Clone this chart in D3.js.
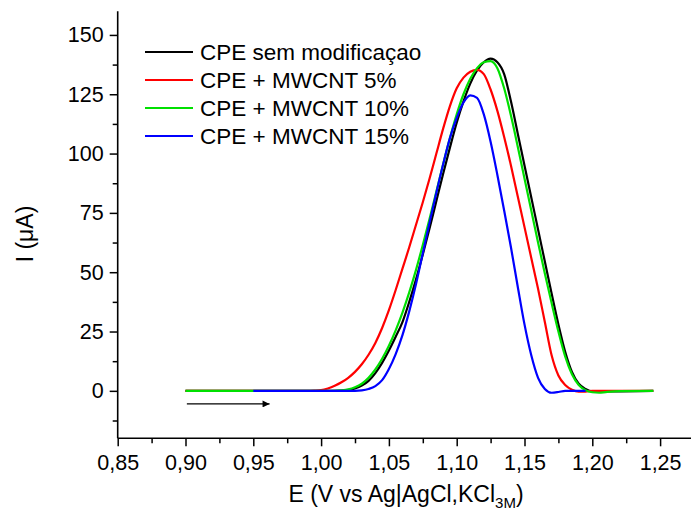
<!DOCTYPE html>
<html>
<head>
<meta charset="utf-8">
<script src="https://cdn.jsdelivr.net/npm/d3@7"></script>
<style>
  html, body { margin: 0; padding: 0; background: #fff; }
  svg { display: block; font-family: "Liberation Sans", Arial, sans-serif; }
</style>
</head>
<body>
<svg id="chart" width="691" height="520"></svg>
<script>
// ---- data ----
const seriesNames = ["CPE sem modificaçao", "CPE + MWCNT 5%", "CPE + MWCNT 10%", "CPE + MWCNT 15%"];
const seriesColors = ["#000000", "#ff0000", "#00e000", "#0000ff"];

const blackE = [0.900, 0.950, 1.000, 1.015, 1.020, 1.025, 1.030, 1.035, 1.040, 1.045, 1.050, 1.055, 1.060, 1.065, 1.070, 1.075, 1.080, 1.085, 1.090, 1.095, 1.100, 1.105, 1.110, 1.115, 1.120, 1.125, 1.130, 1.135, 1.140, 1.145, 1.150, 1.155, 1.160, 1.165, 1.170, 1.175, 1.180, 1.185, 1.190, 1.195, 1.200, 1.210, 1.245];
const blackI = [0.0, 0.0, 0.0, 0.1, 0.3, 1.0, 2.2, 4.2, 7.5, 11.8, 17.0, 22.8, 29.0, 37.5, 47.0, 57.5, 68.5, 80.0, 91.5, 102.5, 113.0, 122.0, 129.5, 135.0, 138.5, 140.0, 138.5, 133.5, 122.0, 108.5, 95.0, 81.5, 68.0, 54.5, 41.0, 28.0, 16.5, 8.0, 3.0, 0.8, -0.2, -0.2, 0.0];

const redE = [0.900, 0.950, 0.990, 0.995, 1.000, 1.005, 1.010, 1.015, 1.020, 1.025, 1.030, 1.035, 1.040, 1.045, 1.050, 1.055, 1.060, 1.065, 1.070, 1.075, 1.080, 1.085, 1.090, 1.095, 1.100, 1.105, 1.110, 1.115, 1.120, 1.125, 1.130, 1.135, 1.140, 1.145, 1.150, 1.155, 1.160, 1.165, 1.170, 1.175, 1.180, 1.185, 1.190, 1.195, 1.200, 1.245];
const redI = [0.0, 0.0, 0.0, 0.1, 0.3, 1.0, 2.1, 3.6, 5.5, 8.0, 11.2, 15.2, 20.2, 26.5, 34.0, 42.5, 51.5, 60.5, 70.0, 79.5, 89.5, 100.0, 110.5, 120.0, 127.5, 132.0, 134.5, 135.3, 133.5, 127.0, 118.0, 107.0, 95.0, 82.0, 69.0, 56.0, 43.0, 29.0, 15.0, 6.5, 2.5, 0.5, -0.3, -0.3, 0.0, 0.0];

const greenE = [0.900, 0.950, 1.000, 1.010, 1.015, 1.020, 1.025, 1.030, 1.035, 1.040, 1.045, 1.050, 1.055, 1.060, 1.065, 1.070, 1.075, 1.080, 1.085, 1.090, 1.095, 1.100, 1.105, 1.110, 1.115, 1.120, 1.125, 1.130, 1.135, 1.140, 1.145, 1.150, 1.155, 1.160, 1.165, 1.170, 1.175, 1.180, 1.185, 1.190, 1.195, 1.200, 1.205, 1.210, 1.220, 1.245];
const greenI = [0.0, 0.0, 0.0, 0.0, 0.2, 0.6, 1.5, 3.0, 5.5, 9.0, 13.5, 19.0, 25.5, 33.0, 41.5, 51.0, 61.5, 72.5, 84.0, 95.5, 106.5, 116.5, 125.0, 131.5, 136.0, 138.5, 139.0, 136.0, 127.5, 116.0, 103.0, 89.5, 76.0, 62.5, 49.5, 37.0, 25.0, 14.5, 7.0, 2.5, 0.3, -0.6, -0.8, -0.5, -0.1, 0.0];

const blueE = [0.950, 1.000, 1.025, 1.030, 1.035, 1.040, 1.045, 1.050, 1.055, 1.060, 1.065, 1.070, 1.075, 1.080, 1.085, 1.090, 1.095, 1.100, 1.105, 1.110, 1.115, 1.120, 1.125, 1.130, 1.135, 1.140, 1.145, 1.150, 1.155, 1.160, 1.165, 1.170, 1.175, 1.180, 1.185, 1.195];
const blueI = [0.0, 0.0, 0.0, 0.2, 0.8, 2.0, 4.5, 9.2, 15.5, 23.5, 33.5, 45.0, 58.0, 71.0, 83.5, 95.5, 106.5, 115.0, 121.5, 124.5, 123.5, 116.5, 105.0, 91.0, 76.0, 60.5, 44.0, 28.0, 15.0, 5.5, 0.8, -0.8, -0.5, 0.0, 0.0, 0.0];

const seriesE = [blackE, redE, greenE, blueE];
const seriesI = [blackI, redI, greenI, blueI];

const xTickValues = [0.85, 0.90, 0.95, 1.00, 1.05, 1.10, 1.15, 1.20, 1.25];
const xTickLabels = ["0,85", "0,90", "0,95", "1,00", "1,05", "1,10", "1,15", "1,20", "1,25"];
const xMinorTicks = [0.875, 0.925, 0.975, 1.025, 1.075, 1.125, 1.175, 1.225];
const yTickValues = [0, 25, 50, 75, 100, 125, 150];
const yTickLabels = ["0", "25", "50", "75", "100", "125", "150"];
const yMinorTicks = [-12.5, 12.5, 37.5, 62.5, 87.5, 112.5, 137.5];

const arrowE = [0.901, 0.962];
const arrowI = -5.5;

// ---- drawing ----
const svg = d3.select("#chart");
const x = d3.scaleLinear().domain([0.85, 1.275]).range([117.7, 694]);
const y = d3.scaleLinear().domain([-20, 160]).range([438.3, 11.2]);

const line = d3.line()
  .x(d => x(d[0]))
  .y(d => y(d[1]))
  .curve(d3.curveMonotoneX);

seriesE.forEach((E, k) => {
  const pts = E.map((e, i) => [e, seriesI[k][i]]);
  svg.append("path")
    .datum(pts)
    .attr("d", line)
    .attr("fill", "none")
    .attr("stroke", seriesColors[k])
    .attr("stroke-width", 2.2)
    .attr("stroke-linejoin", "round");
});

// axes
const xAxis = d3.axisBottom(x)
  .tickValues(xTickValues)
  .tickFormat((d, i) => xTickLabels[i])
  .tickSize(8)
  .tickPadding(8);
const gx = svg.append("g").attr("transform", `translate(0,${y(-20)})`).call(xAxis);
gx.select(".domain").attr("d", `M${x(0.85)},0H691`);
gx.selectAll(".tick line").attr("stroke-width", 1.5);
gx.selectAll("text").attr("font-size", 21.5).attr("font-family", "Liberation Sans, Arial, sans-serif").attr("fill", "#000");

const gxm = svg.append("g").attr("transform", `translate(0,${y(-20)})`)
  .call(d3.axisBottom(x).tickValues(xMinorTicks).tickSize(5).tickFormat(""));
gxm.select(".domain").remove();
gxm.selectAll(".tick line").attr("stroke-width", 1.5);

const yAxis = d3.axisLeft(y)
  .tickValues(yTickValues)
  .tickFormat((d, i) => yTickLabels[i])
  .tickSize(8)
  .tickPadding(6);
const gy = svg.append("g").attr("transform", `translate(${x(0.85)},0)`).call(yAxis);
gy.select(".domain").attr("d", `M0,${y(-20)}V${y(160)}`);
gy.selectAll(".tick line").attr("stroke-width", 1.5);
gy.selectAll("text").attr("font-size", 21.5).attr("font-family", "Liberation Sans, Arial, sans-serif").attr("fill", "#000");

const gym = svg.append("g").attr("transform", `translate(${x(0.85)},0)`)
  .call(d3.axisLeft(y).tickValues(yMinorTicks).tickSize(5).tickFormat(""));
gym.select(".domain").remove();
gym.selectAll(".tick line").attr("stroke-width", 1.5);

svg.selectAll(".domain").attr("stroke-width", 1.6).attr("stroke", "#000");

// arrow
svg.append("defs").append("marker")
  .attr("id", "arrowhead")
  .attr("viewBox", "0 0 10 10")
  .attr("refX", 10).attr("refY", 5)
  .attr("markerWidth", 10).attr("markerHeight", 7)
  .attr("markerUnits", "userSpaceOnUse")
  .attr("orient", "auto")
  .append("path").attr("d", "M0,0L10,5L0,10Z").attr("fill", "#000");
svg.append("line")
  .attr("x1", x(arrowE[0])).attr("x2", x(arrowE[1]))
  .attr("y1", y(arrowI)).attr("y2", y(arrowI))
  .attr("stroke", "#000").attr("stroke-width", 1.2)
  .attr("marker-end", "url(#arrowhead)");

// legend
const legend = svg.append("g").attr("transform", "translate(145,52)");
seriesNames.forEach((name, k) => {
  const g = legend.append("g").attr("transform", `translate(0,${k * 28})`);
  g.append("line").attr("x1", 0).attr("x2", 48).attr("y1", 0).attr("y2", 0)
    .attr("stroke", seriesColors[k]).attr("stroke-width", 2.2);
  g.append("text").attr("x", 55).attr("y", 0).attr("dy", "0.36em")
    .attr("font-size", 22.5).attr("fill", "#000").text(name);
});

// axis titles
const xt = svg.append("text")
  .attr("x", 406).attr("y", 502)
  .attr("text-anchor", "middle")
  .attr("font-size", 23).attr("fill", "#000");
xt.append("tspan").text("E (V vs Ag|AgCl,KCl");
xt.append("tspan").attr("font-size", 15).attr("dy", 6).text("3M");
xt.append("tspan").attr("dy", -6).text(")");

svg.append("text")
  .attr("transform", "translate(33,234) rotate(-90)")
  .attr("text-anchor", "middle")
  .attr("font-size", 23).attr("fill", "#000")
  .text("I (\u03bcA)");
</script>
</body>
</html>
